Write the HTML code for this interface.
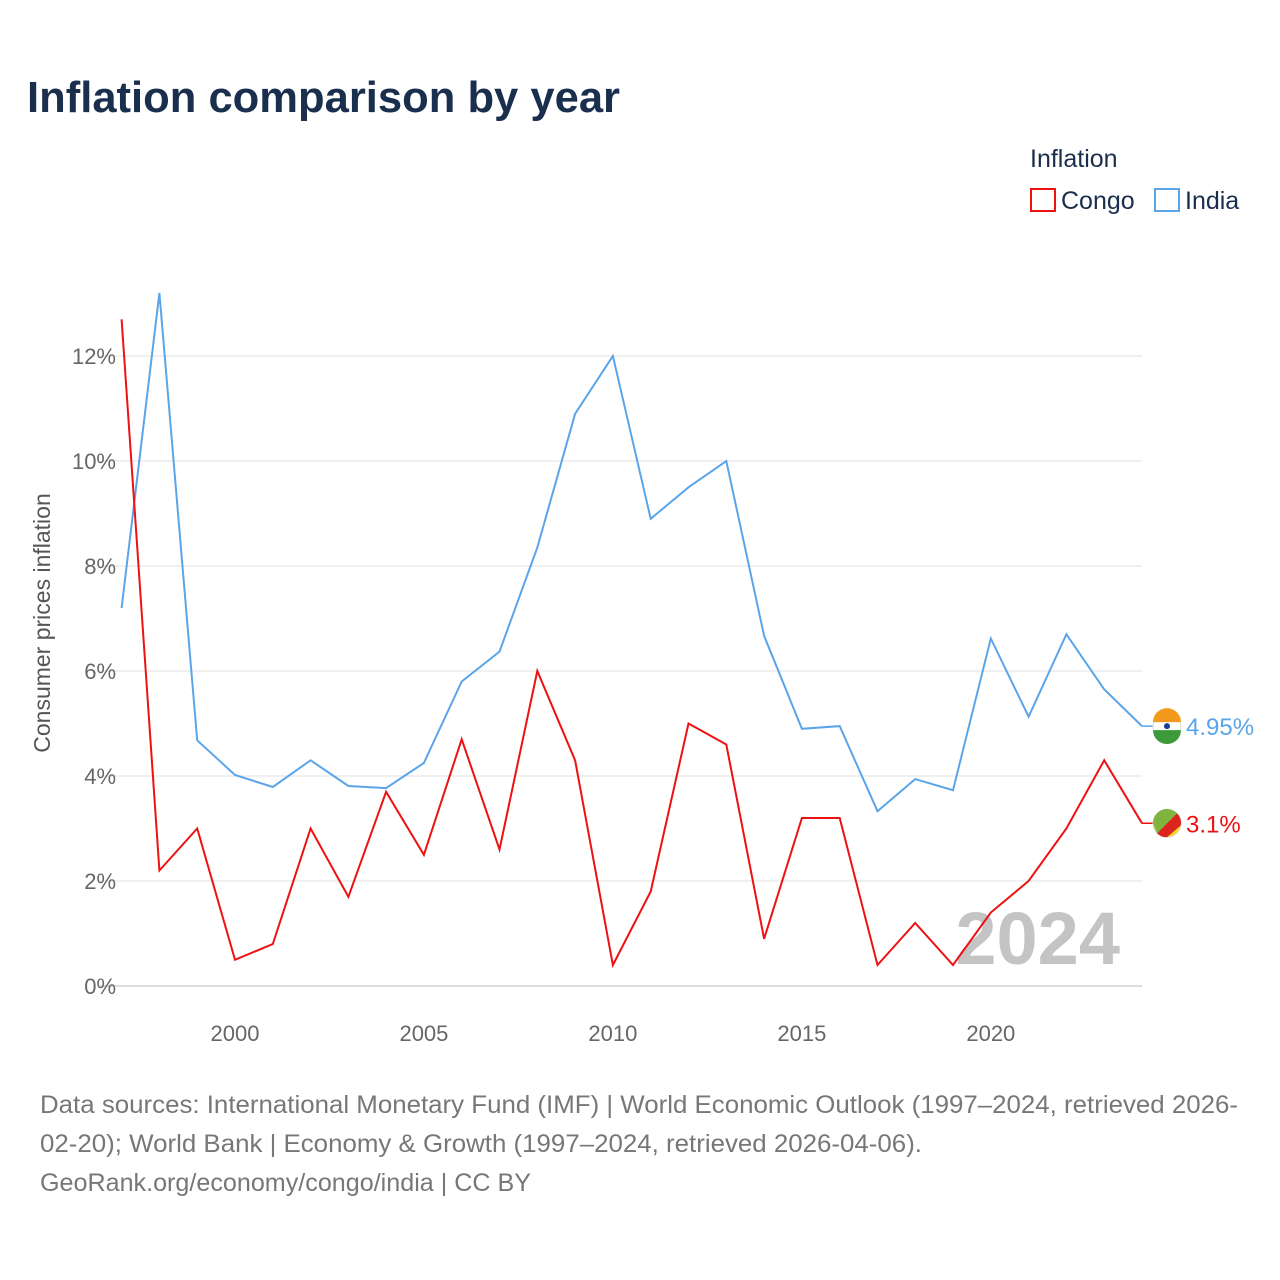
<!DOCTYPE html>
<html><head><meta charset="utf-8">
<style>
body{margin:0;background:#fff;font-family:"Liberation Sans",sans-serif;}
#wrap{position:relative;width:1280px;height:1280px;overflow:hidden;}
</style></head>
<body><div id="wrap">
<svg id="svg" width="1280" height="1280" xmlns="http://www.w3.org/2000/svg">
<text x="27" y="112" font-size="44" font-weight="bold" fill="#1a2e4d" textLength="593" lengthAdjust="spacingAndGlyphs">Inflation comparison by year</text>
<text x="1030" y="167" font-size="25" fill="#1a2e4d">Inflation</text>
<g><rect x="1031" y="189" width="24" height="22" fill="none" stroke="#ee1111" stroke-width="2"/><text x="1061" y="209" font-size="25" fill="#1a2e4d">Congo</text></g>
<g><rect x="1155" y="189" width="24" height="22" fill="none" stroke="#5aa5ea" stroke-width="2"/><text x="1185" y="209" font-size="25" fill="#1a2e4d">India</text></g>
<text x="1120" y="964" font-size="74" font-weight="bold" fill="#c4c4c4" text-anchor="end">2024</text>
<text transform="translate(50,623) rotate(-90)" font-size="23" fill="#555" text-anchor="middle">Consumer prices inflation</text>
<g id="grid"></g><g id="lines"></g>
<text x="40" y="1113" font-size="25" fill="#777" textLength="1198" lengthAdjust="spacingAndGlyphs">Data sources: International Monetary Fund (IMF) | World Economic Outlook (1997–2024, retrieved 2026-</text>
<text x="40" y="1152" font-size="25" fill="#777" textLength="882" lengthAdjust="spacingAndGlyphs">02-20); World Bank | Economy &amp; Growth (1997–2024, retrieved 2026-04-06).</text>
<text x="40" y="1191" font-size="25" fill="#777" textLength="491" lengthAdjust="spacingAndGlyphs">GeoRank.org/economy/congo/india | CC BY</text>
</svg></div>
<script>
const years=[1997,1998,1999,2000,2001,2002,2003,2004,2005,2006,2007,2008,2009,2010,2011,2012,2013,2014,2015,2016,2017,2018,2019,2020,2021,2022,2023,2024];
const india=[7.2,13.2,4.68,4.02,3.79,4.3,3.81,3.77,4.25,5.8,6.37,8.35,10.9,12.0,8.9,9.5,10.0,6.67,4.9,4.95,3.33,3.94,3.73,6.62,5.13,6.7,5.65,4.95];
const congo=[12.7,2.2,3.0,0.5,0.8,3.0,1.7,3.7,2.5,4.7,2.6,6.0,4.3,0.4,1.8,5.0,4.6,0.9,3.2,3.2,0.4,1.2,0.4,1.4,2.0,3.0,4.3,3.1];
const yTicks=[0,2,4,6,8,10,12];
const xTicks=[2000,2005,2010,2015,2020];
const NS="http://www.w3.org/2000/svg";
const X=y=>121.6+(y-1997)*(1142-121.6)/27;
const Y=v=>986-v*52.5;
const grid=document.getElementById('grid'),lines=document.getElementById('lines');
function mk(tag,attrs,parent){const e=document.createElementNS(NS,tag);for(const k in attrs)e.setAttribute(k,attrs[k]);parent.appendChild(e);return e;}
yTicks.forEach(t=>{
 const l=mk('line',{x1:100,x2:1142,y1:Y(t),y2:Y(t),stroke:t===0?'#ddd':'#ebebeb','stroke-width':t===0?2:1.5},grid);
 
 
 const tx=mk('text',{x:116,y:Y(t)+8,'font-size':22,fill:'#666','text-anchor':'end'},grid);tx.textContent=t+'%';
 
 
});
xTicks.forEach(t=>{
 const tx=mk('text',{x:X(t),y:1041,'font-size':22,fill:'#666','text-anchor':'middle'},grid);tx.textContent=t;
 
 
});
function series(vals,color,name){
 const d=vals.map((v,i)=>(i?'L':'M')+X(years[i]).toFixed(1)+','+Y(v).toFixed(1)).join('');
 const p=mk('path',{d:d,fill:'none',stroke:color,'stroke-width':2},lines);
 
 
 const last=vals[vals.length-1],lx=X(years[years.length-1]),ly=Y(last);
 mk('line',{x1:lx,x2:lx+12,y1:ly,y2:ly,stroke:color,'stroke-width':1.5},lines);
 const c=mk('circle',{cx:lx+25,cy:ly,r:14,fill:name==='india'?'#fff':'#f7d618',stroke:'#ddd'},lines);
 
 
 if(name==='india'){mk('path',{d:`M${lx+11},${ly-4}a14,14 0 0 1 28,0z`,fill:'#f39a1d'},lines);mk('path',{d:`M${lx+11},${ly+4}a14,14 0 0 0 28,0z`,fill:'#3d9a3a'},lines);mk('circle',{cx:lx+25,cy:ly,r:3,fill:'#1a3c99'},lines);}
 else{mk('path',{d:`M${lx+15},${ly+10}L${lx+35},${ly-10}A14,14 0 0 1 ${lx+25+14*0.99},${ly+2}L${lx+25},${ly+14}A14 14 0 0 1 ${lx+15},${ly+10}z`,fill:'#dc241f'},lines);mk('path',{d:`M${lx+15},${ly+10}L${lx+35},${ly-10}A14,14 0 0 0 ${lx+11},${ly}z`,fill:'#7fb53f'},lines);}
 const t=mk('text',{x:lx+44,y:ly+9,'font-size':24,fill:color},lines);t.textContent=(name==='india'?last.toFixed(2):last.toFixed(1))+'%';
 
 
}
series(india,'#5aa5ea','india');
series(congo,'#ee1111','congo');
</script></body></html>
